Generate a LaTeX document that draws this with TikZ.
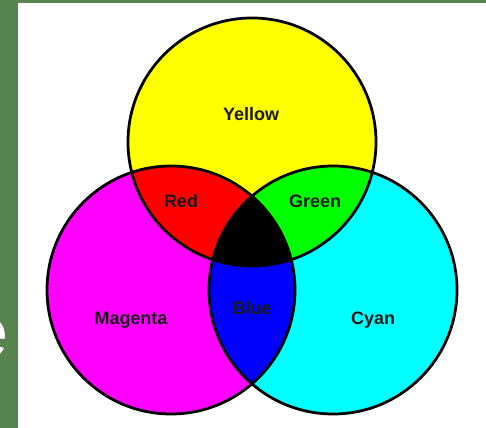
\documentclass[tikz,border=0pt]{standalone}
\usepackage{fontspec}
\setmainfont{Liberation Sans}
\usepackage{xcolor}
\usepackage{tikz}

\definecolor{slidegreen}{RGB}{88,132,80}
\definecolor{vyellow}{RGB}{255,255,0}
\definecolor{vmagenta}{RGB}{255,0,255}
\definecolor{vcyan}{RGB}{0,255,255}
\definecolor{vred}{RGB}{255,0,0}
\definecolor{vgreen}{RGB}{0,255,0}
\definecolor{vblue}{RGB}{0,0,255}

\begin{document}
\begin{tikzpicture}[
    x=0.02cm, y=-0.02cm,
    ring/.style={draw=black, line width=0.055cm},
    lbl/.style={anchor=base, inner sep=0pt, text=black!90,
                font=\fontsize{10.24}{12}\selectfont\bfseries},
]
\useasboundingbox (0,0) rectangle (486,428);

% slide background
\fill[slidegreen] (0,0) rectangle (486,428);
\begin{scope}
  \clip (0,0) rectangle (18,428);
  \node[anchor=base east, inner sep=0pt, text=white,
        font=\fontsize{40}{40}\selectfont] (slidee) at (9,357) {e};
\end{scope}
\fill[white] (18,3) rectangle (486,428);

\coordinate (ycen) at (252,142);
\coordinate (mcen) at (171,290);
\coordinate (ccen) at (333,290);
\def\rad{124}

% primary discs
\fill[vyellow] (ycen) circle (\rad);
\fill[vmagenta] (mcen) circle (\rad);
\fill[vcyan] (ccen) circle (\rad);

% overlaps
\begin{scope}
  \clip (ycen) circle (\rad);
  \fill[vred] (mcen) circle (\rad);
  \fill[vgreen] (ccen) circle (\rad);
\end{scope}
\begin{scope}
  \clip (mcen) circle (\rad);
  \fill[vblue] (ccen) circle (\rad);
  \clip (ccen) circle (\rad);
  \fill[black] (ycen) circle (\rad);
\end{scope}

\draw[ring] (ycen) circle (\rad);
\draw[ring] (mcen) circle (\rad);
\draw[ring] (ccen) circle (\rad);

% labels
\node[lbl] (yellowlbl) at (251,121) {Yellow};
\node[lbl] (redlbl) at (181,208) {Red};
\node[lbl] (greenlbl) at (315,208) {Green};
\node[lbl] (bluelbl) at (252,315) {Blue};
\node[lbl] (magentalbl) at (131,325) {Magenta};
\node[lbl] (cyanlbl) at (373,325) {Cyan};
\end{tikzpicture}
\end{document}
